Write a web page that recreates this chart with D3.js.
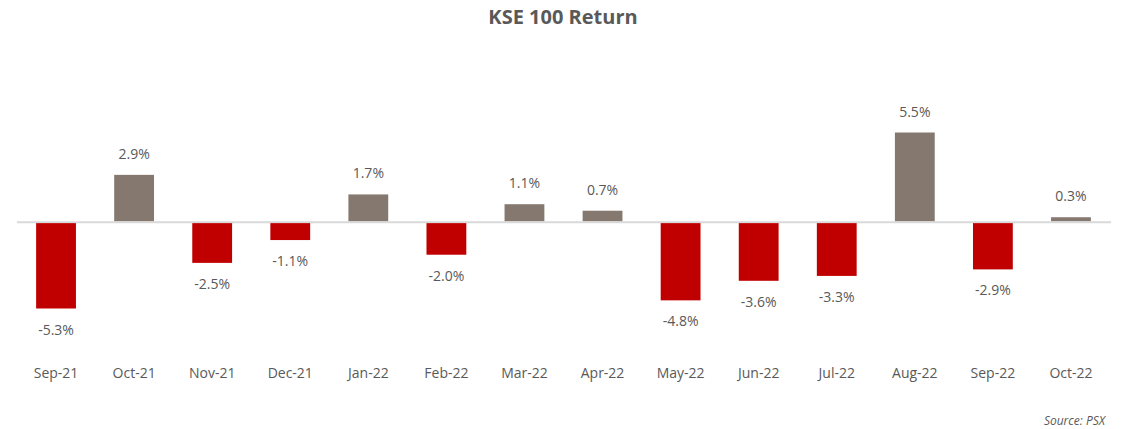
<!DOCTYPE html>
<html>
<head>
<meta charset="utf-8">
<script src="https://cdn.jsdelivr.net/npm/d3@7"></script>
<style>
    body { margin: 0; background: #fff; }
    text { font-family: "Open Sans", "Noto Sans", sans-serif; fill: #595959; }
</style>
</head>
<body>
<svg id="chart" width="1121" height="429"></svg>
<script>
// monthly KSE 100 returns, %
var months = ["Sep-21", "Oct-21", "Nov-21", "Dec-21", "Jan-22", "Feb-22", "Mar-22",
    "Apr-22", "May-22", "Jun-22", "Jul-22", "Aug-22", "Sep-22", "Oct-22"];
var returns = [-5.3, 2.9, -2.5, -1.1, 1.7, -2.0, 1.1, 0.7, -4.8, -3.6, -3.3, 5.5, -2.9, 0.3];

var svg = d3.select("#chart");

var x = d3.scaleBand().domain(months).range([17, 1110])
    .paddingInner(0.49).paddingOuter(0.245);
// ~16.3px per percent, zero line at y=222
var y = d3.scaleLinear().domain([-5.3, 5.5]).range([308.5, 132.5]);

svg.append("text")
    .attr("x", 563).attr("y", 24)
    .attr("text-anchor", "middle")
    .style("font-size", "20px").style("font-weight", "bold")
    .text("KSE 100 Return");

svg.append("line")
    .attr("x1", 17).attr("x2", 1111)
    .attr("y1", y(0)).attr("y2", y(0))
    .attr("stroke", "#d9d9d9").attr("stroke-width", 2);

svg.selectAll("rect.bar").data(returns).enter().append("rect")
    .attr("class", "bar")
    .attr("x", function (d, i) { return x(months[i]); })
    .attr("width", x.bandwidth())
    .attr("y", function (d) { return d >= 0 ? y(d) : y(0) + 1; })
    .attr("height", function (d) { return d >= 0 ? y(0) - y(d) - 1 : y(d) - y(0) - 1; })
    .attr("fill", function (d) { return d >= 0 ? "#85786f" : "#c00000"; });

svg.selectAll("text.val").data(returns).enter().append("text")
    .attr("class", "val")
    .attr("x", function (d, i) { return x(months[i]) + x.bandwidth() / 2; })
    .attr("y", function (d) { return d >= 0 ? y(d) - 16 : y(d) + 26; })
    .attr("text-anchor", "middle")
    .style("font-size", "14px")
    .text(function (d) { return d.toFixed(1) + "%"; });

var axis = svg.append("g").attr("transform", "translate(0,361)")
    .call(d3.axisBottom(x).tickSize(0).tickPadding(0));
axis.select(".domain").remove();
axis.selectAll("text")
    .attr("dy", "1.2em")
    .style("font-size", "14px")
    .style("font-family", "'Open Sans', 'Noto Sans', sans-serif")
    .attr("fill", "#595959");

svg.append("text")
    .attr("x", 1105).attr("y", 425)
    .attr("text-anchor", "end")
    .style("font-size", "12px").style("font-style", "italic")
    .text("Source: PSX");
</script>
</body>
</html>
